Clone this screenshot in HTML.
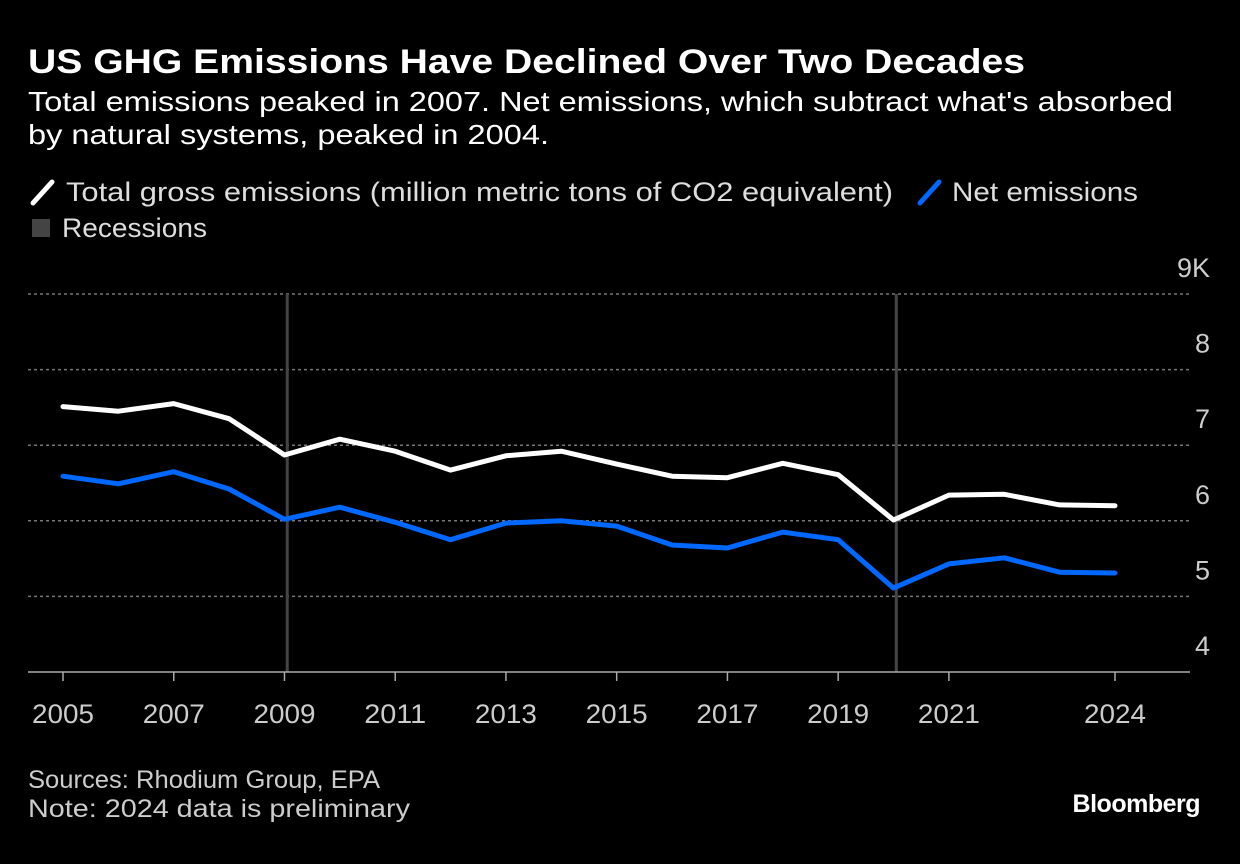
<!DOCTYPE html>
<html><head><meta charset="utf-8"><style>
html,body{margin:0;padding:0;background:#000;}
body{width:1240px;height:864px;overflow:hidden;font-family:"Liberation Sans","DejaVu Sans",sans-serif;color:#fff;}
</style></head><body>
<svg id="chart" width="1240" height="864" xmlns="http://www.w3.org/2000/svg" style="position:absolute;left:0;top:0">
<text x="28" y="73" font-size="34" font-weight="bold" fill="#fff" font-family="Liberation Sans, sans-serif" textLength="997" lengthAdjust="spacingAndGlyphs">US GHG Emissions Have Declined Over Two Decades</text>
<text x="28" y="111" font-size="28" fill="#fff" font-family="Liberation Sans, sans-serif" textLength="1145" lengthAdjust="spacingAndGlyphs">Total emissions peaked in 2007. Net emissions, which subtract what's absorbed</text>
<text x="28" y="144" font-size="28" fill="#fff" font-family="Liberation Sans, sans-serif" textLength="521" lengthAdjust="spacingAndGlyphs">by natural systems, peaked in 2004.</text>
<g font-size="27" fill="#ddd" font-family="Liberation Sans, sans-serif">
<line x1="33" y1="203" x2="52" y2="182" stroke="#fff" stroke-width="5" stroke-linecap="round"/>
<text x="66" y="201" textLength="827" lengthAdjust="spacingAndGlyphs">Total gross emissions (million metric tons of CO2 equivalent)</text>
<line x1="920" y1="203" x2="939" y2="182" stroke="#0068ff" stroke-width="5" stroke-linecap="round"/>
<text x="952" y="201" textLength="186" lengthAdjust="spacingAndGlyphs">Net emissions</text>
<rect x="32" y="219" width="18" height="18" fill="#444"/>
<text x="62" y="237" textLength="145" lengthAdjust="spacingAndGlyphs">Recessions</text>
</g>
<g id="plot"></g>
<text x="28" y="788" font-size="25" fill="#ccc" font-family="Liberation Sans, sans-serif" textLength="352" lengthAdjust="spacingAndGlyphs">Sources: Rhodium Group, EPA</text>
<text x="28" y="817" font-size="25" fill="#ccc" font-family="Liberation Sans, sans-serif" textLength="382" lengthAdjust="spacingAndGlyphs">Note: 2024 data is preliminary</text>
<text x="1200" y="812" text-anchor="end" font-size="25" font-weight="bold" fill="#fff" font-family="Liberation Sans, sans-serif" letter-spacing="-0.5">Bloomberg</text>
</svg>
<script>
const years=[2005,2006,2007,2008,2009,2010,2011,2012,2013,2014,2015,2016,2017,2018,2019,2020,2021,2022,2023,2024];
const gross=[7.51,7.45,7.55,7.35,6.87,7.08,6.92,6.67,6.86,6.92,6.75,6.59,6.57,6.76,6.61,6.01,6.34,6.35,6.21,6.20];
const net=[6.59,6.49,6.65,6.42,6.02,6.18,5.98,5.75,5.97,6.00,5.93,5.68,5.64,5.85,5.75,5.11,5.43,5.51,5.32,5.31];
const yTicks=[4,5,6,7,8,9];
const yTickLabels=["4","5","6","7","8","9K"];
const xTicks=[2005,2007,2009,2011,2013,2015,2017,2019,2021,2024];
const recessions=[2009.05,2020.05];

const NS="http://www.w3.org/2000/svg";
const plot=document.getElementById('plot');
const X=v=>63+(v-2005)*(1115-63)/19;
const Y=v=>672-(v-4)*75.6;
function mk(tag,attrs){const e=document.createElementNS(NS,tag);for(const k in attrs)e.setAttribute(k,attrs[k]);plot.appendChild(e);return e;}
yTicks.forEach((t,i)=>{
  if(t>4){const g=mk('line',{x1:28,x2:1190,y1:Y(t),y2:Y(t),stroke:'#777','stroke-width':1.5,'stroke-dasharray':'3,3'});
  
  }
  const l=mk('text',{x:1210,y:Y(t)-17,'text-anchor':'end','font-size':27,fill:'#ccc','font-family':'Liberation Sans, sans-serif'});
  l.textContent=yTickLabels[i];
  
  
});
recessions.forEach((r,i)=>{
  const e=mk('line',{x1:X(r),x2:X(r),y1:Y(9),y2:Y(4),stroke:'#444','stroke-width':3});
  
  
});
const ax=mk('line',{x1:28,x2:1190,y1:672,y2:672,stroke:'#aaa','stroke-width':1.5});


xTicks.forEach(t=>{
  const tk=mk('line',{x1:X(t),x2:X(t),y1:672,y2:681,stroke:'#aaa','stroke-width':1.5});
  
  
  const l=mk('text',{x:X(t),y:723,'text-anchor':'middle','font-size':27,fill:'#ccc','font-family':'Liberation Sans, sans-serif',textLength:62,lengthAdjust:'spacingAndGlyphs'});
  l.textContent=t;
  
  
});
function line(vals,color,name){
  const d=vals.map((v,i)=>(i?'L':'M')+X(years[i]).toFixed(1)+','+Y(v).toFixed(1)).join(' ');
  const p=mk('path',{d:d,fill:'none',stroke:color,'stroke-width':5,'stroke-linejoin':'round','stroke-linecap':'round'});
  
  
}
line(gross,'#fff','gross-emissions-line');
line(net,'#0068ff','net-emissions-line');
</script>
</body></html>
